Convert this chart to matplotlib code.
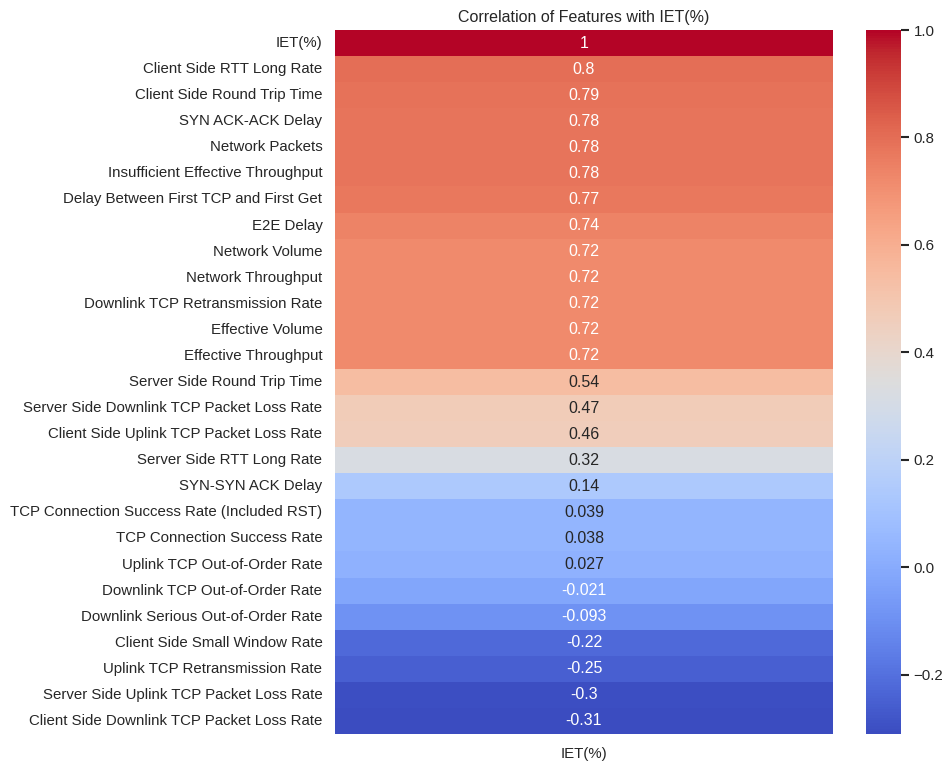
import matplotlib
matplotlib.use("Agg")
import matplotlib.pyplot as plt
import seaborn as sns
import pandas as pd
import numpy as np

features = [
    "IET(%)",
    "Client Side RTT Long Rate",
    "Client Side Round Trip Time",
    "SYN ACK-ACK Delay",
    "Network Packets",
    "Insufficient Effective Throughput",
    "Delay Between First TCP and First Get",
    "E2E Delay",
    "Network Volume",
    "Network Throughput",
    "Downlink TCP Retransmission Rate",
    "Effective Volume",
    "Effective Throughput",
    "Server Side Round Trip Time",
    "Server Side Downlink TCP Packet Loss Rate",
    "Client Side Uplink TCP Packet Loss Rate",
    "Server Side RTT Long Rate",
    "SYN-SYN ACK Delay",
    "TCP Connection Success Rate (Included RST)",
    "TCP Connection Success Rate",
    "Uplink TCP Out-of-Order Rate",
    "Downlink TCP Out-of-Order Rate",
    "Downlink Serious Out-of-Order Rate",
    "Client Side Small Window Rate",
    "Uplink TCP Retransmission Rate",
    "Server Side Uplink TCP Packet Loss Rate",
    "Client Side Downlink TCP Packet Loss Rate",
]
correlations = [
    1.0, 0.80, 0.79, 0.78, 0.78, 0.78, 0.77, 0.74, 0.72, 0.72, 0.72, 0.72, 0.72,
    0.54, 0.47, 0.46, 0.32, 0.14, 0.039, 0.038, 0.027, -0.021, -0.093,
    -0.22, -0.25, -0.30, -0.31,
]

sns.set_theme(style="ticks")
plt.rcParams["font.family"] = ["Liberation Sans", "DejaVu Sans"]

df = pd.DataFrame({"IET(%)": correlations}, index=features)

fig = plt.figure(figsize=(9.45, 7.65), dpi=100)
ax = fig.add_axes([335 / 945, 1 - 734 / 765, (833 - 335) / 945, (734 - 30) / 765])
cax = fig.add_axes([866 / 945, 1 - 734 / 765, (901 - 866) / 945, (734 - 30) / 765])

sns.heatmap(df, annot=True, cmap="coolwarm", ax=ax, cbar_ax=cax,
            annot_kws={"fontsize": 11.5})
ax.set_title("Correlation of Features with IET(%)", fontsize=11.5)
ax.tick_params(axis="y", rotation=0, labelsize=10.8, left=False, pad=3)
ax.tick_params(axis="x", labelsize=10.8, bottom=False, pad=3.5)

# short dark tick marks on the right side of the colour bar
cax.tick_params(axis="y", left=False, right=True, labelleft=False,
                labelright=True, length=5.5, width=1.5, color="#262626",
                labelsize=10.8, pad=3.5)

fig.savefig("out.png", dpi=100)
